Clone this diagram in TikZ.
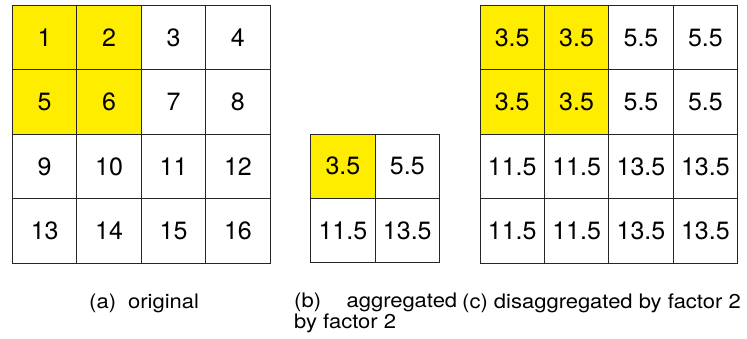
\documentclass[tikz,border=0pt]{standalone}
\usepackage{fontspec}
\setmainfont{TeX Gyre Heros}
\newfontfamily\capfont[FakeStretch=1.1]{TeX Gyre Heros}
\definecolor{cellyellow}{RGB}{255,237,0}
\begin{document}
\begin{tikzpicture}[x=1pt,y=-1pt,
  cell/.style={draw=black!85,line width=0.9pt,minimum size=64.4pt,inner sep=0pt,
    font=\fontsize{25}{30}\selectfont},
  captext/.style={inner sep=0pt,font=\capfont\fontsize{20}{20.5}\selectfont}]
  \useasboundingbox (0,0) rectangle (747,338);
  % (a) original
  \foreach \r in {0,...,3}
    \foreach \c in {0,...,3} {
      \pgfmathtruncatemacro{\v}{4*\r+\c+1}
      \pgfmathtruncatemacro{\h}{(\r<2)&&(\c<2)}
      \ifnum\h=1 \def\fc{cellyellow}\else\def\fc{white}\fi
      \node[cell,fill=\fc] (a-\r-\c) at (44.7+64.4*\c,37.7+64.4*\r) {\v};
    }
  % (b) aggregated
  \foreach \r in {0,1}
    \foreach \c in {0,1} {
      \pgfmathtruncatemacro{\v}{3+2*\c+8*\r}
      \pgfmathtruncatemacro{\h}{(\r==0)&&(\c==0)}
      \ifnum\h=1 \def\fc{cellyellow}\else\def\fc{white}\fi
      \node[cell,fill=\fc] (b-\r-\c) at (342.9+64.4*\c,166.2+64.4*\r) {\v.5};
    }
  % (c) disaggregated
  \foreach \r in {0,...,3}
    \foreach \c in {0,...,3} {
      \pgfmathtruncatemacro{\v}{3+2*int(\c/2)+8*int(\r/2)}
      \pgfmathtruncatemacro{\h}{(\r<2)&&(\c<2)}
      \ifnum\h=1 \def\fc{cellyellow}\else\def\fc{white}\fi
      \node[cell,fill=\fc] (c-\r-\c) at (512.2+64.4*\c,37.7+64.4*\r) {\v.5};
    }
  % captions
  \node[captext,anchor=base west] (capa) at (89,308) {(a)\hspace{0.3em} original};
  \node[captext,anchor=north west,text width=163pt,align=justify] (capb) at (294,293)
    {(b) aggregated by factor 2};
  \node[captext,anchor=base west] (capc) at (462,308) {(c) disaggregated by factor 2};
\end{tikzpicture}
\end{document}
